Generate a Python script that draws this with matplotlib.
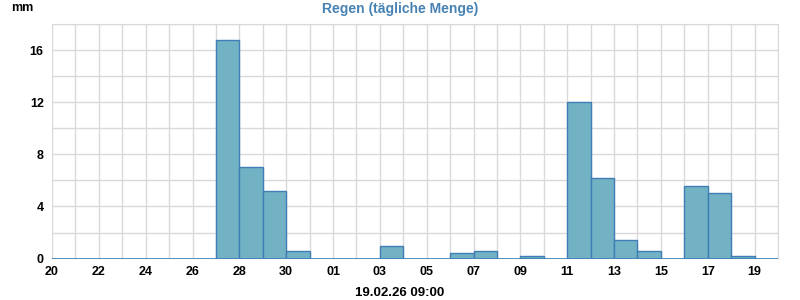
import numpy as np
import matplotlib.pyplot as plt

plt.rcParams['font.family'] = ['Liberation Sans', 'DejaVu Sans']

# daily rain totals, 20.01 .. 19.02 (one bar per day)
day_labels = ['20', '21', '22', '23', '24', '25', '26', '27', '28', '29', '30', '31',
              '01', '02', '03', '04', '05', '06', '07', '08', '09', '10', '11', '12',
              '13', '14', '15', '16', '17', '18', '19', '20']
rain_mm = [0, 0, 0, 0, 0, 0, 0, 16.8, 7.0, 5.2, 0.6, 0, 0, 0, 1.0, 0, 0, 0.4, 0.6, 0,
           0.2, 0, 12.0, 6.2, 1.4, 0.6, 0, 5.6, 5.0, 0.2, 0]
y_ticks = [0, 4, 8, 12, 16]

fill = '#73b1c5'
edge = '#3f7fb5'
gridc = '#d9d9d9'

fig = plt.figure(figsize=(8, 3), dpi=100)
ax = fig.add_axes([0.065, 0.138, 0.9075, 0.782])

x = np.arange(len(rain_mm))
ax.bar(x, rain_mm, width=1.0, align='edge', color=fill, edgecolor=edge, linewidth=1, zorder=3)
ax.axhline(0, color=edge, linewidth=1.2, zorder=4)

ax.set_xlim(0, len(rain_mm))
ax.set_ylim(0, 18)
ax.set_xticks(np.arange(0, len(day_labels), 2))
ax.set_xticklabels(day_labels[::2])
ax.set_xticks(np.arange(0, len(day_labels)), minor=True)
ax.set_yticks(y_ticks)
ax.set_yticks(np.arange(0, 19, 2), minor=True)
ax.grid(True, which='both', color=gridc, linewidth=1, zorder=0)
ax.set_axisbelow(True)
ax.tick_params(which='both', length=0)
ax.tick_params(axis='x', pad=5)
ax.tick_params(axis='y', pad=6)
for lab in ax.get_xticklabels() + ax.get_yticklabels():
    lab.set_fontsize(9)
    lab.set_fontweight('bold')
for s in ax.spines.values():
    s.set_visible(False)
ax.spines['top'].set_visible(True)
ax.spines['top'].set_color(gridc)
ax.spines['right'].set_visible(True)
ax.spines['right'].set_color(gridc)

fig.text(0.5, 0.97, 'Regen (tägliche Menge)', ha='center', va='center',
         fontsize=10, fontweight='bold', color='#4682b4')
fig.text(0.014, 0.972, 'mm', ha='left', va='center', fontsize=9, fontweight='bold')
fig.text(0.5, 0.024, '19.02.26 09:00', ha='center', va='center', fontsize=9.5, fontweight='bold')

fig.savefig('out.png', dpi=100)
